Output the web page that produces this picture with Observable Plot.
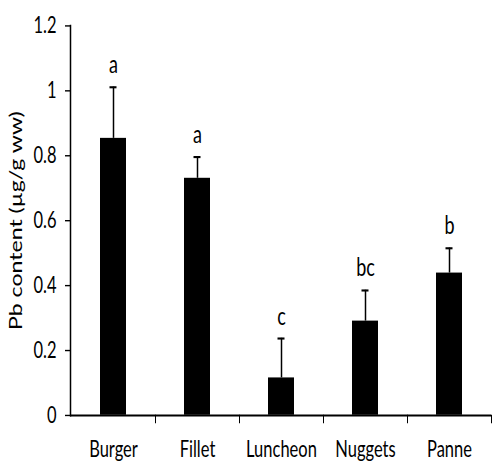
<!DOCTYPE html>
<html><head><meta charset="utf-8">
<script src="https://cdn.jsdelivr.net/npm/d3@7"></script>
<script src="https://cdn.jsdelivr.net/npm/@observablehq/plot@0.6"></script>
<style>
html,body{margin:0;padding:0;background:#fff;}
#chart{width:492px;height:461px;overflow:hidden;}
#chart svg{transform:scaleY(1.4012);transform-origin:0 0;display:block;}
</style></head><body><div id="chart"></div>
<script>
const categories = ["Burger","Fillet","Luncheon","Nuggets","Panne"];
const means = [0.853, 0.73, 0.115, 0.29, 0.438];
const errors = [0.158, 0.066, 0.122, 0.095, 0.077];
const letters = ["a","a","c","bc","b"];
const yTicks = [0, 0.2, 0.4, 0.6, 0.8, 1, 1.2];

const data = categories.map((c, i) => ({cat: c, mean: means[i], top: means[i] + errors[i], letter: letters[i]}));

const chart = Plot.plot({
  width: 492,
  height: 329,
  marginLeft: 70,
  marginRight: 1,
  marginTop: 18,
  marginBottom: 33,
  style: {fontFamily: "Lato, sans-serif", fontSize: "16px", color: "black", background: "white"},
  x: {type: "band", domain: categories, padding: 0},
  y: {domain: [0, 1.2]},
  marks: [
    Plot.axisY({ticks: yTicks, tickSize: 5, tickPadding: 9, tickFormat: d => String(d), fontSize: 16.5,
      label: "Pb content (µg/g ww)", labelAnchor: "center", labelArrow: "none", labelOffset: 60}),
    Plot.axisX({tickSize: 6, tickFormat: () => "", dx: 42, label: null}),
    Plot.axisX({tickSize: 0, tickPadding: 18, fontSize: 16.5, label: null}),
    Plot.frame({anchor: "left", strokeWidth: 1.5}),
    Plot.ruleX(data, {x: "cat", y1: "mean", y2: "top", strokeWidth: 1.5}),
    Plot.tickY(data, {x: "cat", y: "top", insetLeft: 38.5, insetRight: 38.5, strokeWidth: 1.5}),
    Plot.barY(data, {x: "cat", y: "mean", fill: "black", insetLeft: 29, insetRight: 29}),
    Plot.ruleY([0], {strokeWidth: 1.5}),
    Plot.text(data, {x: "cat", y: "top", text: "letter", lineAnchor: "bottom", dy: -10, fontSize: 18, fill: "black"})
  ]
});
document.getElementById("chart").appendChild(chart);
</script></body></html>
